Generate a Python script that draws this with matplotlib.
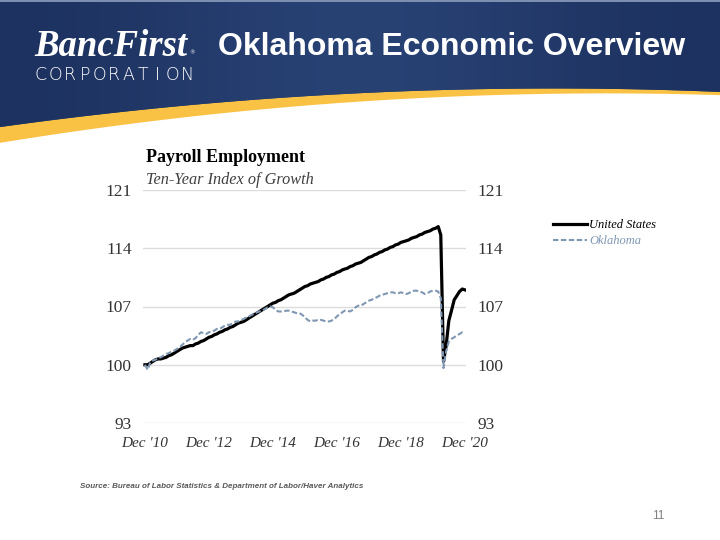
import numpy as np
import pandas as pd
import matplotlib
matplotlib.use('Agg')
import matplotlib.pyplot as plt
from matplotlib.patches import Polygon, Rectangle
from matplotlib.lines import Line2D

# monthly index, Dec 2010 = 100
months = pd.date_range('2010-12-01', '2020-12-01', freq='MS')

us_index = [100.0,
    100.0, 100.2, 100.4, 100.6, 100.7, 100.7, 100.8, 100.9, 101.1, 101.2, 101.4, 101.6,
    101.8, 102.0, 102.1, 102.2, 102.3, 102.3, 102.5, 102.6, 102.8, 102.9, 103.1, 103.3,
    103.4, 103.6, 103.7, 103.9, 104.0, 104.2, 104.3, 104.5, 104.6, 104.8, 105.0, 105.1,
    105.2, 105.4, 105.6, 105.8, 106.0, 106.2, 106.4, 106.6, 106.8, 107.0, 107.2, 107.4,
    107.5, 107.7, 107.8, 108.0, 108.2, 108.4, 108.5, 108.6, 108.8, 109.0, 109.2, 109.4,
    109.5, 109.7, 109.8, 109.9, 110.0, 110.2, 110.3, 110.5, 110.6, 110.8, 110.9, 111.1,
    111.2, 111.4, 111.5, 111.6, 111.8, 111.9, 112.1, 112.2, 112.3, 112.5, 112.7, 112.9,
    113.0, 113.2, 113.3, 113.5, 113.6, 113.8, 113.9, 114.1, 114.2, 114.4, 114.5, 114.7,
    114.8, 114.9, 115.0, 115.2, 115.3, 115.4, 115.6, 115.7, 115.9, 116.0, 116.1, 116.3,
    116.4, 116.6, 115.6, 100.4, 102.3, 105.3, 106.5, 107.8, 108.3, 108.8, 109.1, 109.0]

ok_index = [100.0,
    99.4, 100.3, 100.5, 100.6, 100.8, 100.9, 101.1, 101.3, 101.4, 101.6, 101.7, 101.9,
    102.1, 102.4, 102.7, 102.9, 103.1, 103.0, 103.2, 103.6, 103.9, 103.8, 103.7, 103.9,
    104.0, 104.1, 104.3, 104.3, 104.5, 104.7, 104.8, 104.8, 105.0, 105.2, 105.2, 105.4,
    105.5, 105.7, 105.8, 106.0, 106.1, 106.3, 106.4, 106.5, 106.7, 106.9, 107.0, 106.9,
    106.6, 106.4, 106.4, 106.4, 106.5, 106.5, 106.4, 106.3, 106.2, 106.2, 106.0, 105.7,
    105.4, 105.2, 105.3, 105.3, 105.4, 105.4, 105.3, 105.2, 105.2, 105.3, 105.5, 105.8,
    106.1, 106.3, 106.5, 106.5, 106.4, 106.6, 106.9, 107.1, 107.1, 107.3, 107.5, 107.7,
    107.8, 108.0, 108.1, 108.3, 108.4, 108.5, 108.6, 108.7, 108.7, 108.6, 108.6, 108.7,
    108.6, 108.5, 108.6, 108.8, 108.9, 108.9, 108.8, 108.7, 108.5, 108.6, 108.8, 108.9,
    108.9, 108.8, 108.0, 99.6, 101.6, 102.8, 103.1, 103.3, 103.5, 103.7, 103.9, 103.8]

y_ticks = [93, 100, 107, 114, 121]
x_tick_dates = ['2010-12-01', '2012-12-01', '2014-12-01', '2016-12-01', '2018-12-01', '2020-12-01']
x_tick_labels = ["Dec '10", "Dec '12", "Dec '14", "Dec '16", "Dec '18", "Dec '20"]

NAVY = '#243c68'
GOLD = '#f9c244'
OK_BLUE = '#7f97b3'
SERIF = 'Liberation Serif'

fig = plt.figure(figsize=(7.2, 5.4), dpi=100)
fig.patch.set_facecolor('white')

# header band, drawn in pixel coords
bg = fig.add_axes([0, 0, 1, 1], zorder=0)
bg.set_xlim(0, 720)
bg.set_ylim(540, 0)
bg.axis('off')

xs = np.linspace(0, 720, 200)
navy_edge = np.polyval(np.polyfit([0, 240, 480, 720], [127, 101, 89, 92], 2), xs)
gold_edge = np.polyval(np.polyfit([0, 240, 480, 720], [143, 111, 96, 95], 2), xs)

gold_pts = np.vstack([np.column_stack([xs, navy_edge - 1]),
                      np.column_stack([xs[::-1], gold_edge[::-1]])])
bg.add_patch(Polygon(gold_pts, closed=True, facecolor=GOLD, edgecolor='none'))

navy_pts = np.vstack([[[0, 0], [720, 0]], np.column_stack([xs[::-1], navy_edge[::-1]])])
navy_patch = Polygon(navy_pts, closed=True, facecolor=NAVY, edgecolor='none')
bg.add_patch(navy_patch)
grad = np.array([[0.0, 0.6, 1.0, 0.6, 0.0]])
cmap = matplotlib.colors.LinearSegmentedColormap.from_list('hdr', ['#1d3260', '#2a4477'])
im = bg.imshow(grad, cmap=cmap, extent=[0, 720, 150, 0], aspect='auto',
               interpolation='bicubic', zorder=2)
im.set_clip_path(navy_patch)
bg.add_patch(Rectangle((0, 0), 720, 2, facecolor='#7d8fb0', edgecolor='none', zorder=3))

bg.text(34, 56, 'BancFirst', family=SERIF, fontsize=26.5, fontweight='bold',
        style='italic', color='white', zorder=4)
bg.text(189, 54, '®', family='DejaVu Sans', fontsize=4, color='white', zorder=4)
for i, ch in enumerate('CORPORATION'):
    bg.text(41 + i * 14.6, 80, ch, family='DejaVu Sans', fontsize=12.5,
            fontweight='light', color='white', ha='center', zorder=4)
bg.text(218, 47, 'Oklahoma Economic Overview', family='Liberation Sans', fontsize=23,
        fontweight='bold', color='white', va='center', zorder=4)

bg.text(80, 486, 'Source: Bureau of Labor Statistics & Department of Labor/Haver Analytics',
        family='Liberation Sans', fontsize=5.8, fontweight='bold', style='italic',
        color='#595959', va='center')
bg.text(664, 516, '11', family='Liberation Sans', fontsize=8.5, color='#7f7f7f',
        ha='right', va='center')

# chart
ax = fig.add_axes([143 / 720, 1 - 423 / 540, 323 / 720, 233 / 540], zorder=1)
ax.patch.set_alpha(0)
ax.plot(months, us_index, color='black', linewidth=2.3, solid_joinstyle='round', zorder=3)
ax.plot(months, ok_index, color=OK_BLUE, linewidth=1.5, dashes=(2.6, 1.2), zorder=4)

ax.set_ylim(93, 121)
ax.set_xlim(pd.Timestamp('2010-11-09'), pd.Timestamp('2020-12-14'))
ax.set_yticks(y_ticks)
ax.set_xticks(pd.to_datetime(x_tick_dates))
ax.set_xticklabels(x_tick_labels, family=SERIF, style='italic', fontsize=11, color='#333333')
ax.set_yticklabels([str(v) for v in y_ticks], family=SERIF, fontsize=12.5, color='#333333')
ax.tick_params(axis='y', length=0, pad=8, labelright=True)
ax.tick_params(axis='x', length=0, pad=10)
ax.grid(axis='y', color='#dcdcdc', linewidth=1.0)
ax.grid(axis='x', visible=False)
ax.set_axisbelow(True)
for s in ax.spines.values():
    s.set_visible(False)

fig.text(146 / 720, 1 - 157 / 540, 'Payroll Employment', family=SERIF, fontsize=13,
         fontweight='bold', color='black', va='center')
fig.text(146 / 720, 1 - 180 / 540, 'Ten-Year Index of Growth', family=SERIF, fontsize=11.7,
         style='italic', color='#404040', va='center')

handles = [Line2D([], [], color='black', linewidth=2.3),
           Line2D([], [], color=OK_BLUE, linewidth=1.5, dashes=(2.6, 1.2))]
fig.legend(handles, ['United States', 'Oklahoma'], loc='upper left',
           bbox_to_anchor=(553 / 720, 1 - 219 / 540), frameon=False,
           prop={'family': SERIF, 'style': 'italic', 'size': 9},
           labelcolor=['black', OK_BLUE], handlelength=2.7, handletextpad=0.2,
           borderpad=0, borderaxespad=0, labelspacing=0.35)

fig.savefig('out.png', dpi=100)
